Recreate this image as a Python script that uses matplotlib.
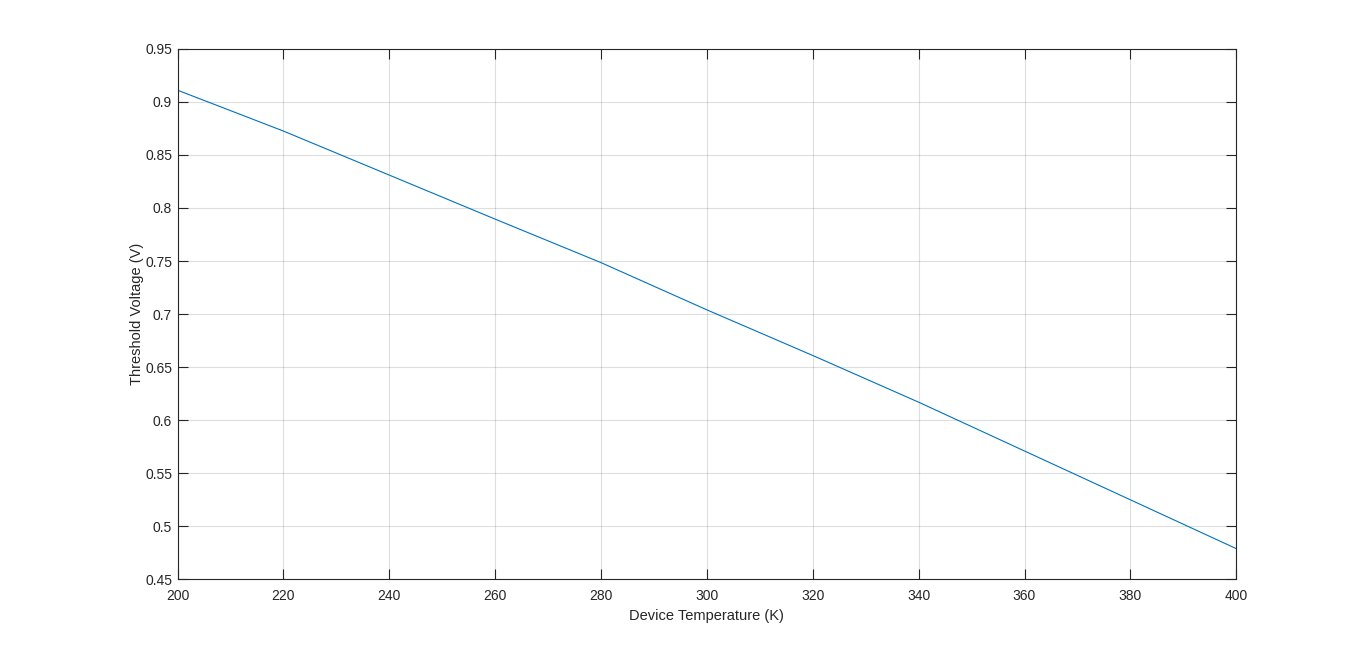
import matplotlib
matplotlib.use("Agg")
import matplotlib.pyplot as plt

# Threshold voltage vs temperature
temperature = [200, 220, 240, 260, 280, 300, 320, 340, 360, 380, 400]
vth = [0.911, 0.8725, 0.831, 0.7895, 0.7485, 0.704, 0.661, 0.617, 0.571, 0.525, 0.479]

x_ticks = list(range(200, 401, 20))
y_ticks = [0.45, 0.5, 0.55, 0.6, 0.65, 0.7, 0.75, 0.8, 0.85, 0.9, 0.95]
y_labels = ["0.45", "0.5", "0.55", "0.6", "0.65", "0.7", "0.75", "0.8", "0.85", "0.9", "0.95"]

plt.rcParams["font.family"] = ["Liberation Sans", "DejaVu Sans"]
text_color = "#262626"

fig = plt.figure(figsize=(13.66, 6.51), dpi=100)
ax = fig.add_axes([0.13, 0.11, 0.775, 0.815])

ax.plot(temperature, vth, color="#0072BD", linewidth=0.8)

ax.set_xlim(200, 400)
ax.set_ylim(0.45, 0.95)
ax.set_xticks(x_ticks)
ax.set_yticks(y_ticks)
ax.set_yticklabels(y_labels)

ax.grid(True, color=text_color, alpha=0.15, linewidth=0.8)
ax.tick_params(direction="in", top=True, right=True, length=7, width=0.8,
               colors=text_color, labelsize=10)
ax.tick_params(axis="x", pad=7)
ax.tick_params(axis="y", pad=4)
for spine in ax.spines.values():
    spine.set_color(text_color)
    spine.set_linewidth(0.8)

ax.set_xlabel("Device Temperature (K)", fontsize=10.5, color=text_color, labelpad=4)
ax.set_ylabel("Threshold Voltage (V)", fontsize=10.5, color=text_color, labelpad=1)

fig.savefig("out.png", dpi=100, facecolor="white")
